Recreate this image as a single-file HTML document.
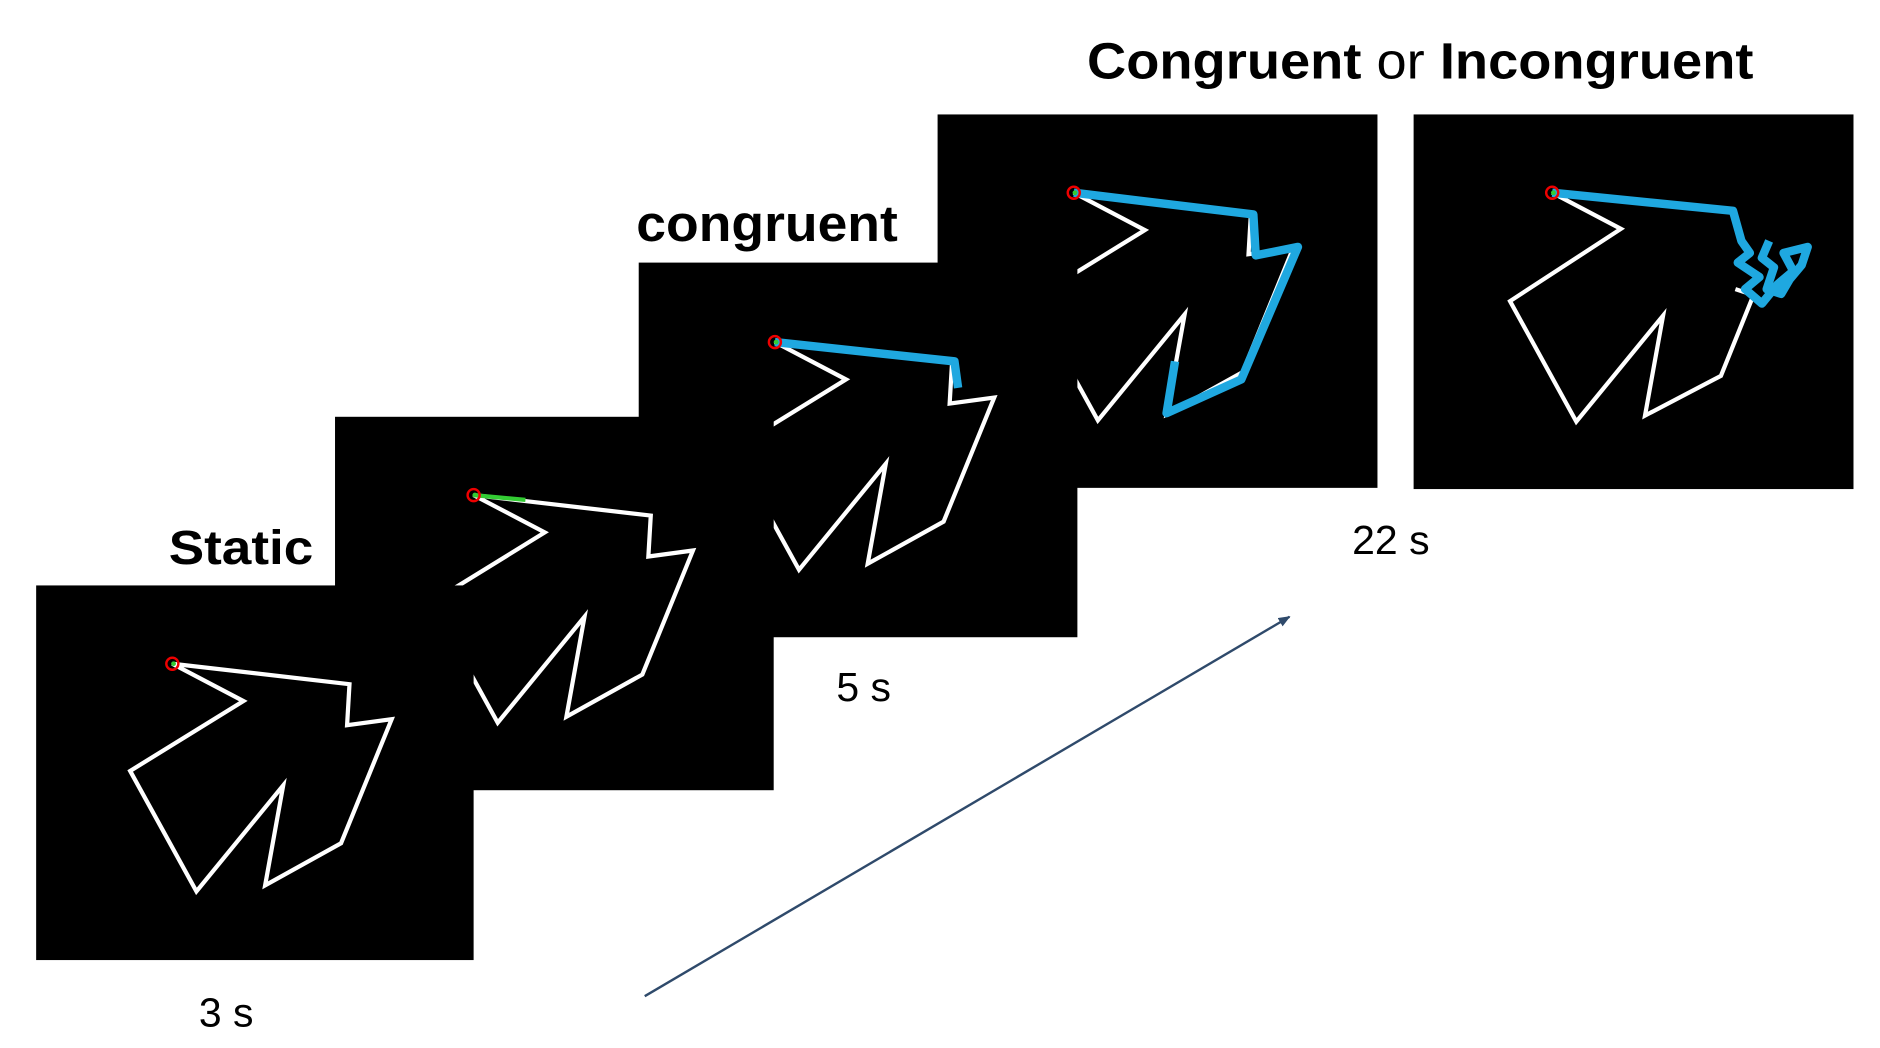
<!DOCTYPE html>
<html><head><meta charset="utf-8"><style>
html,body{margin:0;padding:0;background:#fff;}
svg{display:block;}
</style></head><body>
<svg width="1880" height="1048" viewBox="0 0 1560 870" preserveAspectRatio="none" xmlns="http://www.w3.org/2000/svg">
<defs>
<g id="shape">
<path d="M143,551 L202,582 L108,640 L163,740 L235,652 L220,735 L283,700 L325,597 L288,602 L290,568 Z" fill="none" stroke="#fff" stroke-width="3.5" stroke-linejoin="miter"/>
</g>
<g id="mark"><circle cx="0" cy="0" r="5" fill="none" stroke="#e00" stroke-width="2"/><circle cx="1" cy="0" r="2" fill="#3c3"/></g>
<marker id="ah" markerWidth="10" markerHeight="8" refX="9" refY="4" orient="auto" markerUnits="userSpaceOnUse"><path d="M0,0 L10,4 L0,8 Z" fill="#2f4a6b"/></marker>
</defs>

<rect x="1173" y="95" width="365" height="311" fill="#000"/>
<path d="M1288,160 L1345,190 L1253,250 L1308,350 L1380,262 L1365,345 L1428,312 L1455,245 L1440,240" fill="none" stroke="#fff" stroke-width="3.5"/>
<path d="M1288,160 L1438,175 L1445,200 L1452,210 L1442,218 L1460,230 L1448,240 L1462,252 L1475,236 L1488,225 L1480,210 L1500,205 L1495,220 L1485,232 L1478,244 L1466,240 L1472,222 L1462,214 L1468,200" fill="none" stroke="#1fa8e0" stroke-width="7" stroke-linejoin="round"/>
<use href="#mark" x="1288" y="160"/>

<rect x="778" y="95" width="365" height="310" fill="#000"/>
<use href="#shape" transform="translate(748,-391)"/>
<path d="M891,160 L1040,178 L1042,212 L1077,205 L1030,315 L968,343 L975,300" fill="none" stroke="#1fa8e0" stroke-width="7" stroke-linejoin="round"/>
<use href="#mark" x="891" y="160"/>

<rect x="530" y="218" width="364" height="311" fill="#000"/>
<use href="#shape" transform="translate(500,-267)"/>
<path d="M643,284 L792,300 L795,322" fill="none" stroke="#1fa8e0" stroke-width="7" stroke-linejoin="round"/>
<use href="#mark" x="643" y="284"/>

<rect x="278" y="346" width="364" height="310" fill="#000"/>
<use href="#shape" transform="translate(250,-140)"/>
<path d="M393,411 L436,415" stroke="#3c3" stroke-width="3.5"/>
<use href="#mark" x="393" y="411"/>

<rect x="30" y="486" width="363" height="311" fill="#000"/>
<use href="#shape"/>
<use href="#mark" x="143" y="551"/>

<line x1="535" y1="827" x2="1070" y2="512" stroke="#2f4a6b" stroke-width="2" marker-end="url(#ah)"/>

<g font-family="Liberation Sans, sans-serif" fill="#000">
<text x="140" y="468" font-size="40" font-weight="bold" textLength="120" lengthAdjust="spacingAndGlyphs">Static</text>
<text x="528" y="200" font-size="42" font-weight="bold" textLength="217" lengthAdjust="spacingAndGlyphs">congruent</text>
<text x="902" y="65" font-size="42" textLength="553" lengthAdjust="spacingAndGlyphs"><tspan font-weight="bold">Congruent</tspan> or <tspan font-weight="bold">Incongruent</tspan></text>
<text x="165" y="852" font-size="34">3 s</text>
<text x="694" y="582" font-size="34">5 s</text>
<text x="1122" y="460" font-size="34">22 s</text>
</g>
</svg>
</body></html>
